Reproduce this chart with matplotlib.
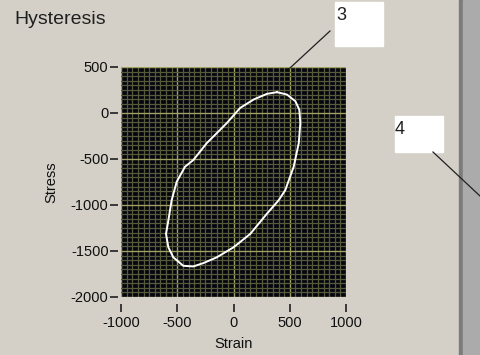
import numpy as np
import matplotlib.pyplot as plt
from matplotlib.ticker import MultipleLocator

# hysteresis loop (strain, stress)
strain = [386, 475, 550, 585, 594, 580, 535, 460, 401, 297, 149, 0, -149, -267,
          -357, -446, -535, -579, -600, -579, -550, -505, -431, -357, -238, -59,
          59, 178, 297, 386]
stress = [226, 201, 128, 36, -109, -328, -584, -839, -949, -1095, -1314, -1460,
          -1569, -1631, -1668, -1661, -1569, -1460, -1314, -1168, -949, -748,
          -584, -511, -328, -109, 55, 146, 208, 226]

xticks = [-1000, -500, 0, 500, 1000]
yticks = [500, 0, -500, -1000, -1500, -2000]

bg = '#d4d0c8'
plt.rcParams['font.family'] = ['Liberation Sans', 'DejaVu Sans']
plt.rcParams['axes.unicode_minus'] = False

fig = plt.figure(figsize=(4.8, 3.55), dpi=100, facecolor=bg)
ax = fig.add_axes([121/480, 1-297/355, 225/480, 230/355])
ax.set_facecolor('#05050f')

ax.plot(strain, stress, color='white', lw=1.4)

ax.set_xlim(-1000, 1000)
ax.set_ylim(-2000, 500)
ax.set_xticks(xticks)
ax.set_yticks(yticks)
ax.xaxis.set_minor_locator(MultipleLocator(50))
ax.yaxis.set_minor_locator(MultipleLocator(50))
ax.grid(which='minor', color='#555a3a', lw=0.9)
ax.grid(which='major', color='#a0a060', lw=1.0)
ax.set_axisbelow(True)
ax.tick_params(which='minor', length=0)
ax.tick_params(which='major', length=6, width=1.2, color='#202020',
               labelsize=10.5, labelcolor='#101010')
ax.tick_params(axis='x', pad=3)
ax.tick_params(axis='y', pad=1)
for s in ax.spines.values():
    s.set_visible(False)
ax.spines['bottom'].set_position(('outward', 5))
ax.spines['left'].set_position(('outward', 2))

ax.set_xlabel('Strain', fontsize=10.5, labelpad=5, color='#101010')
ax.set_ylabel('Stress', fontsize=10.5, labelpad=9, color='#101010')

fig.text(14/480, 1-19/355, 'Hysteresis', fontsize=14, va='center', color='#202020')

# label boxes and their leader lines
fig.patches.append(plt.Rectangle((335/480, 1-46/355), 48/480, 44/355,
                                 transform=fig.transFigure, color='white'))
fig.patches.append(plt.Rectangle((395/480, 1-152/355), 48/480, 36/355,
                                 transform=fig.transFigure, color='white'))
fig.text(336/480, 1-15/355, '3', fontsize=13, va='center', color='#202020')
fig.text(395/480, 1-130/355, '4', fontsize=13, va='center', color='#202020')
fig.add_artist(plt.Line2D([330/480, 290/480], [1-31/355, 1-68/355], color='#202020', lw=0.9))
fig.add_artist(plt.Line2D([433/480, 480/480], [1-152/355, 1-196/355], color='#202020', lw=0.9))

# right edge panel
fig.patches.append(plt.Rectangle((459/480, 0), 4/480, 1, transform=fig.transFigure, color='#7c7c7c'))
fig.patches.append(plt.Rectangle((463/480, 0), 17/480, 1, transform=fig.transFigure, color='#ababab'))

fig.savefig('out.png', dpi=100, facecolor=bg)
